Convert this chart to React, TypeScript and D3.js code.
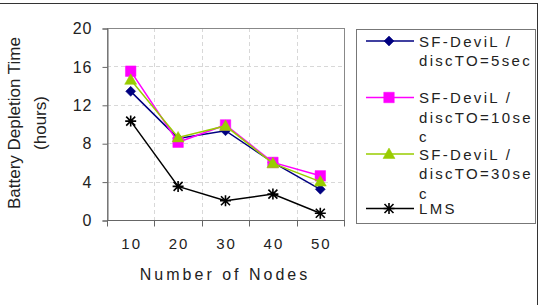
import React, { useEffect, useRef } from 'react';
import * as d3 from 'd3';

const categories = ['10', '20', '30', '40', '50'];
const yTicks = [0, 4, 8, 12, 16, 20];
const sf5 = [13.4, 8.5, 9.3, 6.0, 3.2];
const sf10 = [15.5, 8.1, 9.9, 6.0, 4.6];
const sf30 = [14.6, 8.6, 9.8, 5.9, 4.0];
const lms = [10.3, 3.5, 2.0, 2.7, 0.7];

const series = [
    { name: ['SF-DeviL /', 'discTO=5sec'], values: sf5, color: '#000080', marker: 'diamond' },
    { name: ['SF-DeviL /', 'discTO=10se', 'c'], values: sf10, color: '#FF00FF', marker: 'square' },
    { name: ['SF-DeviL /', 'discTO=30se', 'c'], values: sf30, color: '#99CC00', marker: 'triangle' },
    { name: ['LMS'], values: lms, color: '#000000', marker: 'star' },
];

const font = 'Liberation Sans, Arial, sans-serif';

const App = () => {
    const ref = useRef(null);

    useEffect(() => {
        const svg = d3.select(ref.current);
        svg.selectAll('*').remove();

        // plot area
        const left = 107, right = 344, top = 28, bottom = 220;

        const x = d3.scaleBand().domain(categories).range([left, right]);
        const y = d3.scaleLinear().domain([0, 20]).range([bottom, top]);

        // outer frame (only top and right visible)
        svg.append('rect')
           .attr('x', -2).attr('y', 3.5).attr('width', 539.5).attr('height', 310)
           .attr('fill', 'white').attr('stroke', '#333').attr('stroke-width', 1);

        // grid
        const g = svg.append('g');
        g.selectAll('.hg').data(yTicks.slice(1, -1)).enter().append('line')
         .attr('x1', left).attr('x2', right)
         .attr('y1', d => Math.round(y(d)) + 0.5).attr('y2', d => Math.round(y(d)) + 0.5)
         .attr('stroke', '#d8d8d8').attr('stroke-dasharray', '4,3');
        g.selectAll('.vg').data(categories.slice(1)).enter().append('line')
         .attr('x1', d => Math.round(x(d)) + 0.5).attr('x2', d => Math.round(x(d)) + 0.5)
         .attr('y1', top).attr('y2', bottom)
         .attr('stroke', '#d8d8d8').attr('stroke-dasharray', '4,3');

        // plot frame
        svg.append('rect')
           .attr('x', left + 0.5).attr('y', top + 0.5)
           .attr('width', right - left).attr('height', bottom - top)
           .attr('fill', 'none').attr('stroke', '#888');

        // y axis
        const yAxis = svg.append('g')
           .attr('transform', `translate(${left + 0.5},0.5)`)
           .call(d3.axisLeft(y).tickValues(yTicks).tickSize(5).tickPadding(10));
        yAxis.select('.domain').attr('stroke', '#666');
        yAxis.selectAll('.tick line').attr('stroke', '#666');
        yAxis.selectAll('text')
             .attr('font-family', font).attr('font-size', 16).attr('fill', '#222')
             .style('letter-spacing', '1px');

        // x axis
        const xAxis = svg.append('g')
           .attr('transform', `translate(0,${bottom + 0.5})`);
        xAxis.append('line').attr('x1', left).attr('x2', right + 1)
             .attr('y1', 0).attr('y2', 0).attr('stroke', '#666');
        xAxis.selectAll('.xt').data(categories.concat(['end'])).enter().append('line')
             .attr('x1', (d, i) => Math.round(left + i * x.step()) + 0.5)
             .attr('x2', (d, i) => Math.round(left + i * x.step()) + 0.5)
             .attr('y1', 0).attr('y2', 6).attr('stroke', '#666');
        xAxis.selectAll('.xl').data(categories).enter().append('text')
             .attr('x', d => x(d) + x.bandwidth() / 2 + 1)
             .attr('y', 28)
             .attr('text-anchor', 'middle')
             .attr('font-family', font).attr('font-size', 15).attr('fill', '#222')
             .style('letter-spacing', '2px')
             .text(d => d);

        // axis titles
        svg.append('text')
           .attr('x', 225).attr('y', 280)
           .attr('text-anchor', 'middle')
           .attr('font-family', font).attr('font-size', 16).attr('fill', '#222')
           .style('letter-spacing', '3px')
           .text('Number of Nodes');
        const yt = svg.append('text')
           .attr('transform', 'translate(20,123) rotate(-90)')
           .attr('text-anchor', 'middle')
           .attr('font-family', font).attr('font-size', 17).attr('fill', '#222');
        yt.append('tspan').attr('x', 0).attr('dy', 0).text('Battery Depletion Time');
        yt.append('tspan').attr('x', 0).attr('dy', 26).text('(hours)');

        const markerPath = (type) => {
            if (type === 'diamond') return 'M0,-5L5,0L0,5L-5,0Z';
            if (type === 'square') return d3.symbol(d3.symbolSquare, 110)();
            if (type === 'triangle') return 'M0,-6L6,4.5L-6,4.5Z';
            return 'M-5.5,0L5.5,0M0,-5.5L0,5.5M-4.5,-4.5L4.5,4.5M-4.5,4.5L4.5,-4.5';
        };

        const line = d3.line()
            .x((d, i) => x(categories[i]) + x.bandwidth() / 2)
            .y(d => y(d));

        series.forEach(s => {
            svg.append('path')
               .attr('d', line(s.values))
               .attr('fill', 'none').attr('stroke', s.color).attr('stroke-width', 1.5);
            svg.selectAll(null).data(s.values).enter().append('path')
               .attr('transform', (d, i) => `translate(${x(categories[i]) + x.bandwidth() / 2},${y(d)})`)
               .attr('d', markerPath(s.marker))
               .attr('fill', s.marker === 'star' ? 'none' : s.color)
               .attr('stroke', s.color)
               .attr('stroke-width', s.marker === 'star' ? 1.6 : 0.5);
        });

        // legend
        svg.append('rect')
           .attr('x', 356.5).attr('y', 29.5).attr('width', 179).attr('height', 194)
           .attr('fill', 'white').attr('stroke', '#777');
        const rows = [41, 97.5, 154, 208.5];
        series.forEach((s, i) => {
            const lg = svg.append('g').attr('transform', `translate(0,${rows[i]})`);
            lg.append('line').attr('x1', 366).attr('x2', 414).attr('y1', 0).attr('y2', 0)
              .attr('stroke', s.color).attr('stroke-width', 1.5);
            lg.append('path').attr('transform', 'translate(389,0)')
              .attr('d', markerPath(s.marker))
              .attr('fill', s.marker === 'star' ? 'none' : s.color)
              .attr('stroke', s.color)
              .attr('stroke-width', s.marker === 'star' ? 1.6 : 0.5);
            s.name.forEach((t, j) => {
                lg.append('text')
                  .attr('x', 419).attr('y', j * 19.5 + 5.5)
                  .attr('font-family', font).attr('font-size', 15).attr('fill', '#222')
                  .style('letter-spacing', '2.3px')
                  .text(t);
            });
        });
    }, []);

    return (
        <svg ref={ref} width={541} height={305}
             style={{ position: 'absolute', left: 0, top: 0, background: 'white' }} />
    );
};

export default App;
